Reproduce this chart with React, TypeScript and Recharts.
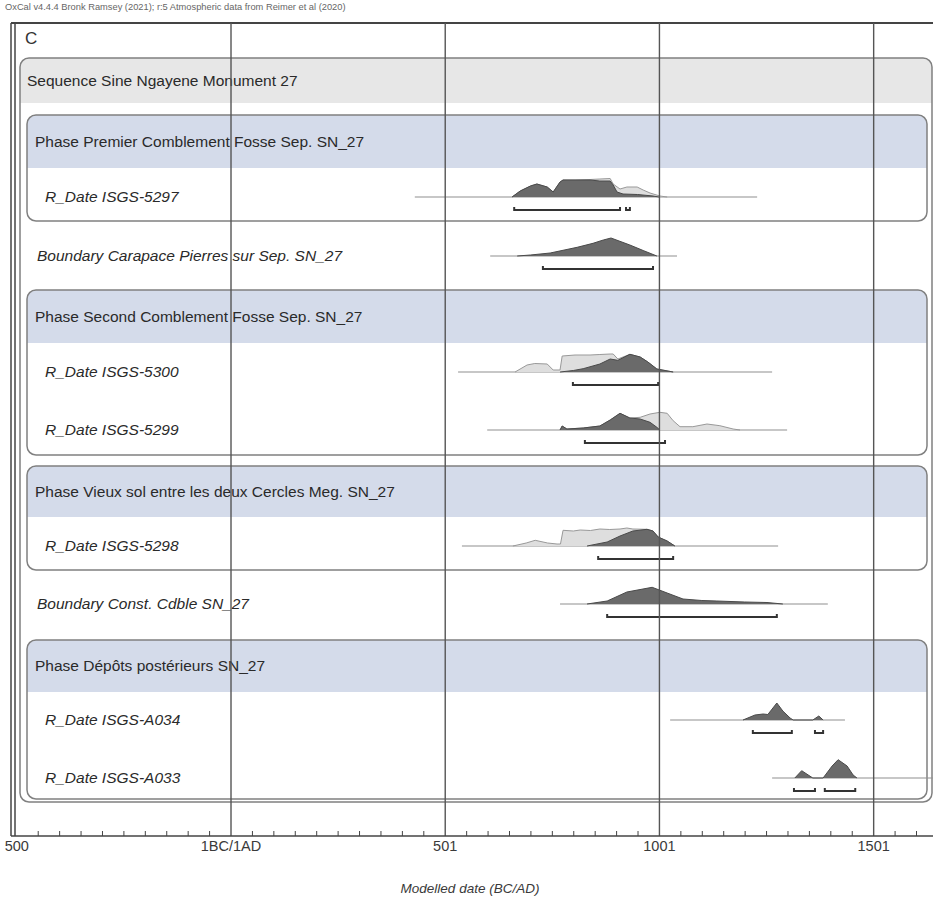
import React from 'react';
import {
  ComposedChart,
  Area,
  Line,
  XAxis,
  YAxis,
  ReferenceArea,
  ReferenceLine,
  Customized,
} from 'recharts';

// ---- data (years AD, relative probability) ----
const majorTicks = [-499, 1, 501, 1001, 1501];
const majorLabels = ['500', '1BC/1AD', '501', '1001', '1501'];
const minorTicks = Array.from({ length: 43 }, (_, i) => -499 + i * 50);

const sequenceLabel = 'Sequence Sine Ngayene Monument 27';
const phaseLabels = [
  'Phase Premier Comblement Fosse Sep. SN_27',
  'Phase Second Comblement Fosse Sep. SN_27',
  'Phase Vieux sol entre les deux Cercles Meg. SN_27',
  'Phase Dépôts postérieurs SN_27',
];

const rowLabels = [
  'R_Date ISGS-5297',
  'Boundary Carapace Pierres sur Sep. SN_27',
  'R_Date ISGS-5300',
  'R_Date ISGS-5299',
  'R_Date ISGS-5298',
  'Boundary Const. Cdble SN_27',
  'R_Date ISGS-A034',
  'R_Date ISGS-A033',
];

// full extent of each distribution (thin line)
const rowExtent = [
  [430, 1229],
  [606, 1042],
  [531, 1264],
  [599, 1299],
  [540, 1278],
  [769, 1394],
  [1026, 1434],
  [1264, 1639],
];

// unmodelled (light) distributions
const like5297 = [[657, 0], [676, 6], [700, 11], [715, 13], [739, 10], [753, 5], [769, 15], [776, 17], [804, 17], [839, 17.5], [862, 18], [886, 18.5], [893, 13], [909, 8], [925, 10], [949, 10], [963, 7], [979, 4], [1002, 1], [1019, 0]];
const like5300 = [[664, 0], [692, 7], [710, 8.5], [739, 8], [753, 2], [769, 2], [774, 16], [804, 17], [839, 17], [862, 17.5], [886, 18], [893, 18], [904, 13], [932, 17.7], [956, 15], [974, 10], [995, 3], [1033, 0]];
const like5299 = [[769, 0], [774, 4], [785, 1], [823, 2], [862, 4], [886, 10], [909, 16.7], [932, 12], [956, 12.7], [979, 16], [1002, 17.7], [1019, 16.7], [1033, 9.3], [1049, 3.3], [1079, 3.3], [1112, 6], [1142, 4.3], [1173, 1], [1189, 0]];
const like5298 = [[659, 0], [690, 3], [711, 5.7], [740, 3], [762, 2], [770, 2], [776, 15.7], [800, 15], [816, 16], [840, 15.5], [862, 17], [885, 16.5], [909, 17], [925, 18], [939, 17], [972, 16.7], [986, 15], [998, 9], [1019, 5], [1037, 0]];

// modelled (dark) distributions
const post5297 = [[657, 0], [676, 6], [700, 11], [715, 13], [739, 10], [753, 5], [769, 15], [776, 17], [804, 17], [839, 17], [862, 16], [886, 16], [893, 12], [902, 5], [916, 3], [950, 2.5], [986, 1], [1000, 0]];
const boundCarapace = [[669, 0], [700, 1], [746, 3], [809, 8.7], [846, 12.7], [870, 16], [888, 18], [932, 11], [963, 5.5], [995, 0]];
const post5300 = [[769, 0], [800, 1.5], [823, 3.3], [862, 8], [886, 13], [904, 11.7], [932, 17.7], [956, 15], [974, 10], [995, 3], [1033, 0]];
const post5299 = [[769, 0], [774, 4], [785, 1], [823, 2], [862, 4], [886, 10], [909, 16.7], [932, 12], [956, 11], [979, 7.7], [995, 2.7], [1002, 0]];
const post5298 = [[832, 0], [879, 4], [909, 10], [939, 15], [972, 16.7], [986, 15], [998, 9], [1019, 5], [1037, 0]];
const boundCdble = [[832, 0], [879, 3], [925, 12], [984, 16.7], [1019, 11], [1056, 5], [1100, 3.5], [1135, 3], [1200, 2], [1252, 1.5], [1289, 0]];
const postA034 = [[1196, 0], [1224, 5], [1243, 6], [1254, 5.5], [1275, 17], [1289, 9], [1306, 2], [1313, 0], [1359, 0], [1373, 4], [1383, 0]];
const postA033 = [[1317, 0], [1333, 7.3], [1359, 0], [1383, 0], [1404, 12], [1418, 18.3], [1439, 12], [1453, 3], [1462, 0]];

const rowLight = [like5297, null, like5300, like5299, like5298, null, null, null];
const rowDark = [post5297, boundCarapace, post5300, post5299, post5298, boundCdble, postA034, postA033];

// 95.4% ranges
const rowRanges = [
  [[662, 909], [923, 932]],
  [[729, 986]],
  [[799, 998]],
  [[827, 1014]],
  [[858, 1033]],
  [[879, 1275]],
  [[1219, 1310], [1364, 1383]],
  [[1315, 1364], [1387, 1458]],
];

// ---- layout ----
const CHART_W = 933;
const CHART_H = 899;
const LEFT = 11;
const TOP = 23;
const AXIS_Y = 836;
const X_MIN = -512.5;
const X_MAX = 1639.5;
const FONT = '"Liberation Sans", Arial, sans-serif';

const rowBase = [197, 256, 372, 430, 546, 604, 720, 778];
const rowLabelX = [45, 37, 45, 45, 45, 37, 45, 45];
const BRACKET_DY = 13;

const seqBox = { x0: 20, x1: 932, y0: 58, y1: 802, head: 45 };
const phaseBoxes = [
  { x0: 27, x1: 927, y0: 115, y1: 221, head: 53 },
  { x0: 27, x1: 927, y0: 290, y1: 455, head: 53 },
  { x0: 27, x1: 927, y0: 466, y1: 570, head: 51 },
  { x0: 27, x1: 927, y0: 640, y1: 799, head: 52 },
];

const pxToYear = (px: number) => X_MIN + ((px - LEFT) * (X_MAX - X_MIN)) / (CHART_W - LEFT);
const v = (py: number) => py - TOP;

const toArea = (pts: number[][], base: number) =>
  pts.map(([x, p]) => ({ x, y: v(base) - p }));

const boxShape = (label: string, fill: string, head: number, textX: number) => (props: any) => {
  const { x, y, width, height } = props;
  const r = 9;
  const d = `M${x},${y + head} L${x},${y + r} A${r},${r} 0 0 1 ${x + r},${y} L${x + width - r},${y} A${r},${r} 0 0 1 ${x + width},${y + r} L${x + width},${y + head} Z`;
  return (
    <g>
      <path d={d} fill={fill} />
      <rect x={x} y={y} width={width} height={height} rx={r} fill="none" stroke="#808080" strokeWidth={1.5} />
      <text x={textX} y={y + head / 2 + 5} fontSize={15.5} fontFamily={FONT} fill="#2a2a2a">
        {label}
      </text>
    </g>
  );
};

const AxisTick = (props: any) => {
  const { x, payload } = props;
  const idx = majorTicks.indexOf(payload.value);
  return (
    <g>
      {idx < 0 && <line x1={x} x2={x} y1={AXIS_Y} y2={AXIS_Y - 5} stroke="#444" strokeWidth={1} />}
      {idx >= 0 && (
        <text x={x} y={AXIS_Y + 15} textAnchor="middle" fontSize={14.5} fontFamily={FONT} fill="#3a3a3a">
          {majorLabels[idx]}
        </text>
      )}
    </g>
  );
};

const Overlay = () => (
  <g fontFamily={FONT}>
    <text x={5} y={10} fontSize={9.3} fill="#666">
      OxCal v4.4.4 Bronk Ramsey (2021); r:5 Atmospheric data from Reimer et al (2020)
    </text>
    <line x1={LEFT} x2={CHART_W} y1={TOP} y2={TOP} stroke="#444" strokeWidth={2} />
    <line x1={LEFT} x2={LEFT} y1={TOP} y2={AXIS_Y} stroke="#444" strokeWidth={1.5} />
    <line x1={15} x2={15} y1={TOP} y2={AXIS_Y} stroke="#444" strokeWidth={1.5} />
    <text x={25} y={44} fontSize={17} fill="#333">C</text>
    {rowLabels.map((t, i) => (
      <text key={t} x={rowLabelX[i]} y={rowBase[i] + 5} fontSize={15.5} fontStyle="italic" fill="#2a2a2a">
        {t}
      </text>
    ))}
    <text x={470} y={893} textAnchor="middle" fontSize={13.5} fontStyle="italic" fill="#3a3a3a">
      Modelled date (BC/AD)
    </text>
  </g>
);

export default function App() {
  return (
    <div style={{ position: 'absolute', left: 0, top: 0, width: CHART_W, height: CHART_H, background: '#fff' }}>
      <ComposedChart width={CHART_W} height={CHART_H} margin={{ top: TOP, right: 0, bottom: 0, left: LEFT }}>
        <XAxis
          type="number"
          dataKey="x"
          domain={[X_MIN, X_MAX]}
          allowDataOverflow
          ticks={minorTicks}
          interval={0}
          tick={(p: any) => <AxisTick {...p} />}
          tickLine={false}
          tickSize={0}
          axisLine={{ stroke: '#444', strokeWidth: 1.5 }}
          height={CHART_H - AXIS_Y}
        />
        <YAxis type="number" domain={[0, AXIS_Y - TOP]} reversed hide allowDataOverflow />

        <ReferenceArea
          x1={pxToYear(seqBox.x0)}
          x2={pxToYear(seqBox.x1)}
          y1={v(seqBox.y0)}
          y2={v(seqBox.y1)}
          zIndex={-200}
          ifOverflow="visible"
          shape={boxShape(sequenceLabel, '#e7e7e7', seqBox.head, 27)}
        />
        {phaseBoxes.map((b, i) => (
          <ReferenceArea
            key={i}
            x1={pxToYear(b.x0)}
            x2={pxToYear(b.x1)}
            y1={v(b.y0)}
            y2={v(b.y1)}
            zIndex={-150}
            ifOverflow="visible"
            shape={boxShape(phaseLabels[i], '#d4dbea', b.head, 35)}
          />
        ))}

        {rowExtent.map(([lo, hi], i) => (
          <ReferenceLine
            key={'ext' + i}
            segment={[{ x: lo, y: v(rowBase[i]) }, { x: hi, y: v(rowBase[i]) }]}
            stroke="#8f8f8f"
            strokeWidth={1}
            zIndex={50}
          />
        ))}

        {rowLight.map((pts, i) =>
          pts ? (
            <Area
              key={'l' + i}
              data={toArea(pts, rowBase[i])}
              dataKey="y"
              type="linear"
              baseValue={v(rowBase[i])}
              fill="#dedede"
              fillOpacity={1}
              stroke="#999"
              strokeWidth={1}
              dot={false}
              activeDot={false}
              isAnimationActive={false}
            />
          ) : null
        )}
        {rowDark.map((pts, i) => (
          <Area
            key={'d' + i}
            data={toArea(pts, rowBase[i])}
            dataKey="y"
            type="linear"
            baseValue={v(rowBase[i])}
            fill="#6a6a6a"
            fillOpacity={1}
            stroke="#4a4a4a"
            strokeWidth={1}
            dot={false}
            activeDot={false}
            isAnimationActive={false}
          />
        ))}

        {rowRanges.map((ranges, i) =>
          ranges.map(([lo, hi], j) => {
            const b = v(rowBase[i] + BRACKET_DY);
            return (
              <Line
                key={'r' + i + '-' + j}
                data={[
                  { x: lo, y: b - 3 },
                  { x: lo, y: b },
                  { x: hi, y: b },
                  { x: hi, y: b - 3 },
                ]}
                dataKey="y"
                type="linear"
                stroke="#333"
                strokeWidth={2}
                dot={false}
                activeDot={false}
                isAnimationActive={false}
              />
            );
          })
        )}

        {majorTicks.slice(1).map((t) => (
          <ReferenceLine key={'g' + t} x={t} stroke="#555" strokeWidth={1.4} zIndex={450} />
        ))}

        <Customized component={Overlay} />
      </ComposedChart>
    </div>
  );
}
